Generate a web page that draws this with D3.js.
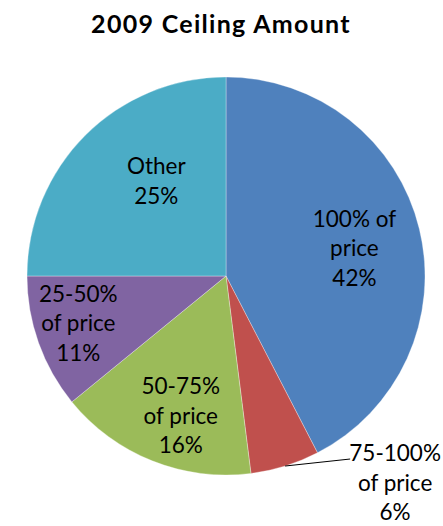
<!DOCTYPE html>
<html>
<head>
<meta charset="utf-8">
<script src="https://cdn.jsdelivr.net/npm/d3@7"></script>
<style>
  body { margin: 0; background: #fff; }
  text { font-family: Lato, "Open Sans", sans-serif; fill: #000; }
</style>
</head>
<body>
<div id="chart-area"></div>
<script>
const WIDTH = 443
const HEIGHT = 526

// data
const categories = ["100% of\nprice", "75-100%\nof price", "50-75%\nof price", "25-50%\nof price", "Other"]
const values = [42.4, 5.6, 16.1, 10.9, 25.0]
const colors = ["#4F81BD", "#C0504D", "#9BBB59", "#8064A2", "#4BACC6"]

// label placement (fraction of radius, angle nudge in degrees), null = outside label
const labelRadius = [0.66, null, 0.74, 0.78, 0.59]
const labelNudge = [1.6, 0, -3.9, 1.7, 8.6]

const CX = 226, CY = 276, R = 199
const LINE_H = 29.5

const svg = d3.select("#chart-area").append("svg")
  .attr("width", WIDTH)
  .attr("height", HEIGHT)

svg.append("text")
  .attr("x", 221)
  .attr("y", 33)
  .attr("text-anchor", "middle")
  .attr("font-size", "25px")
  .attr("font-weight", "bold")
  .attr("letter-spacing", "1.3px")
  .text("2009 Ceiling Amount")

const g = svg.append("g")
  .attr("transform", `translate(${CX}, ${CY})`)

const data = categories.map((c, i) => ({ name: c, value: values[i], color: colors[i], idx: i }))

const pie = d3.pie()
  .sort(null)
  .value(d => d.value)

const arc = d3.arc().innerRadius(0).outerRadius(R)

const arcs = pie(data)

g.selectAll("path")
  .data(arcs)
  .enter().append("path")
    .attr("d", arc)
    .attr("fill", d => d.data.color)
    .attr("stroke", "#fff")
    .attr("stroke-opacity", 0.4)
    .attr("stroke-width", 0.8)

const pct = d => Math.round(d.data.value) + "%"

function polar(angle, r) {
  return [Math.sin(angle) * r, -Math.cos(angle) * r]
}

// inside labels
arcs.forEach(d => {
  const i = d.data.idx
  if (labelRadius[i] == null) return
  const mid = (d.startAngle + d.endAngle) / 2 + labelNudge[i] * Math.PI / 180
  const [x, y] = polar(mid, R * labelRadius[i])
  const lines = d.data.name.split("\n").concat([pct(d)])
  const t = g.append("text")
    .attr("text-anchor", "middle")
    .attr("font-size", "22.5px")
  lines.forEach((l, k) => {
    t.append("tspan")
      .attr("x", x)
      .attr("y", y + (k - (lines.length - 1) / 2) * LINE_H + 7.5)
      .text(l)
  })
})

// outside label with leader line
arcs.forEach(d => {
  const i = d.data.idx
  if (labelRadius[i] != null) return
  const mid = (d.startAngle + d.endAngle) / 2
  const [x0, y0] = polar(mid, R)
  const tx = x0 + 65, ty = y0 - 7
  g.append("path")
    .attr("d", `M${x0},${y0}L${tx},${ty}`)
    .attr("stroke", "#000")
    .attr("stroke-width", 1)
    .attr("fill", "none")
  const lines = d.data.name.split("\n").concat([pct(d)])
  const t = g.append("text")
    .attr("text-anchor", "middle")
    .attr("font-size", "22.5px")
  lines.forEach((l, k) => {
    t.append("tspan")
      .attr("x", tx + 45)
      .attr("y", ty + 2 + k * LINE_H)
      .text(l)
  })
})
</script>
</body>
</html>
